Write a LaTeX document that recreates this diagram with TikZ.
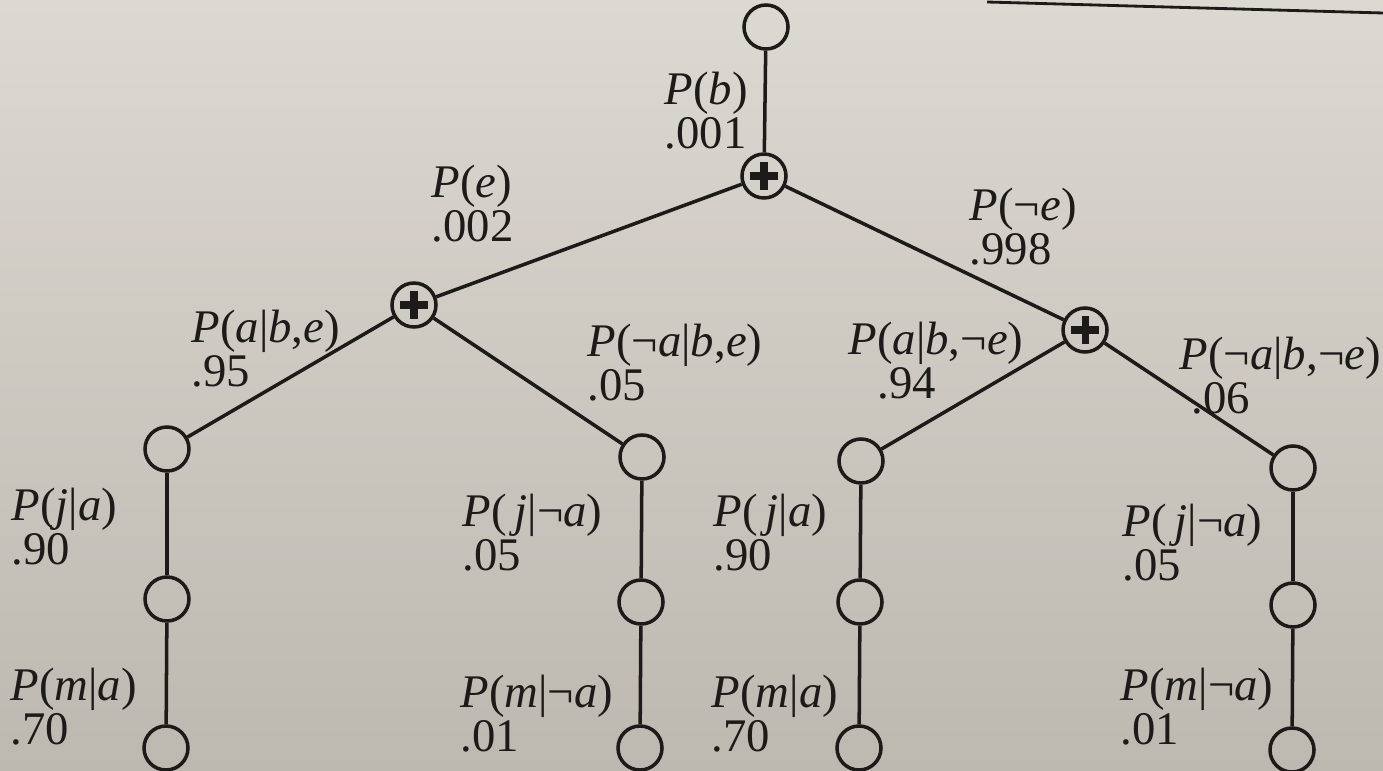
\documentclass[tikz,border=0pt]{standalone}
\usepackage{fontspec}
\setmainfont{Liberation Serif}
\definecolor{ink}{HTML}{1C1B1A}
\definecolor{paperhi}{HTML}{DCD9D2}
\definecolor{paperlo}{HTML}{BDB8B0}
\begin{document}
\begin{tikzpicture}[line width=1pt, draw=ink, text=ink,
  var/.style={circle, draw=ink, fill=none, minimum size=0.44cm, inner sep=0pt},
  sumnode/.style={circle, draw=ink, minimum size=0.44cm, inner sep=0pt},
  plusbar/.style={line width=2pt, draw=ink},
  lbl/.style={anchor=north west, align=left, inner sep=0pt, font=\fontsize{13.3}{11.2}\selectfont}]
% page background
\shade[top color=paperhi, bottom color=paperlo] (0,0) rectangle (13.83,-7.71);
\useasboundingbox (0,0) rectangle (13.83,-7.71);
\draw[line width=0.8pt] (9.87,-0.02) -- (13.83,-0.13);
% root and sums
\node[var] (b) at (7.66,-0.27) {};
\node[sumnode] (sb) at (7.64,-1.76) {};
\node[sumnode] (se) at (4.14,-3.05) {};
\node[sumnode] (sne) at (10.85,-3.30) {};
% alarm, john, mary chains
\node[var] (a1) at (1.67,-4.49) {};
\node[var] (a2) at (6.42,-4.57) {};
\node[var] (a3) at (8.61,-4.61) {};
\node[var] (a4) at (12.93,-4.68) {};
\node[var] (j1) at (1.67,-5.99) {};
\node[var] (j2) at (6.41,-6.02) {};
\node[var] (j3) at (8.60,-6.02) {};
\node[var] (j4) at (12.93,-6.05) {};
\node[var] (m1) at (1.66,-7.48) {};
\node[var] (m2) at (6.40,-7.48) {};
\node[var] (m3) at (8.59,-7.48) {};
\node[var] (m4) at (12.92,-7.50) {};
\foreach \s in {sb,se,sne} {
  \draw[plusbar] ([xshift=-1.4mm]\s.center) -- ([xshift=1.4mm]\s.center);
  \draw[plusbar] ([yshift=-1.4mm]\s.center) -- ([yshift=1.4mm]\s.center);
}
% edges
\draw (b) -- (sb);
\draw (sb) -- (se);
\draw (sb) -- (sne);
\draw (se) -- (a1);
\draw (se) -- (a2);
\draw (sne) -- (a3);
\draw (sne) -- (a4);
\foreach \i in {1,...,4} {
  \draw (a\i) -- (j\i);
  \draw (j\i) -- (m\i);
}
% labels
\node[lbl] (lb) at (6.63,-0.70) {\textit{P}(\textit{b})\\.001};
\node[lbl] (le) at (4.30,-1.63) {\textit{P}(\textit{e})\\.002};
\node[lbl] (lne) at (9.68,-1.86) {\textit{P}(¬\textit{e})\\.998};
\node[lbl] (labe) at (1.90,-3.08) {\textit{P}(\textit{a}|\textit{b},\textit{e})\\.95};
\node[lbl] (lnabe) at (5.86,-3.22) {\textit{P}(¬\textit{a}|\textit{b},\textit{e})\\.05};
\node[lbl] (labne) at (8.47,-3.20) {\textit{P}(\textit{a}|\textit{b},¬\textit{e})\\\hspace{0.29cm}.94};
\node[lbl] (lnabne) at (11.78,-3.35) {\textit{P}(¬\textit{a}|\textit{b},¬\textit{e})\\\hspace{0.12cm}.06};
\node[lbl] (lja1) at (0.10,-4.86) {\textit{P}(\textit{j}|\textit{a})\\.90};
\node[lbl] (ljna1) at (4.61,-4.92) {\textit{P}(\,\textit{j}|¬\textit{a})\\.05};
\node[lbl] (lja2) at (7.12,-4.92) {\textit{P}(\,\textit{j}|\textit{a})\\.90};
\node[lbl] (ljna2) at (11.21,-5.02) {\textit{P}(\,\textit{j}|¬\textit{a})\\.05};
\node[lbl] (lma1) at (0.09,-6.66) {\textit{P}(\textit{m}|\textit{a})\\.70};
\node[lbl] (lmna1) at (4.59,-6.73) {\textit{P}(\textit{m}|¬\textit{a})\\.01};
\node[lbl] (lma2) at (7.10,-6.73) {\textit{P}(\textit{m}|\textit{a})\\.70};
\node[lbl] (lmna2) at (11.19,-6.66) {\textit{P}(\textit{m}|¬\textit{a})\\.01};
\end{tikzpicture}
\end{document}
